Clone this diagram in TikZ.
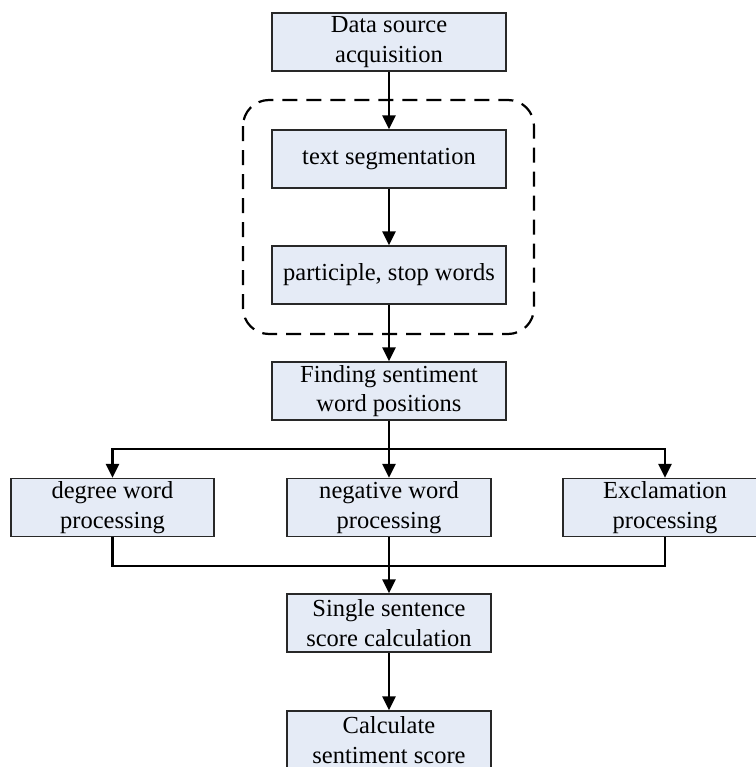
\documentclass[tikz,border=0pt]{standalone}
\usepackage{fontspec}
\setmainfont{Liberation Serif}
\usetikzlibrary{arrows.meta,positioning,calc}
\definecolor{boxfill}{RGB}{229,235,246}
\definecolor{boxline}{RGB}{40,40,40}

\tikzset{
  procbox/.style={draw=boxline, fill=boxfill, line width=1.3bp, align=center,
    inner sep=0pt, minimum height=58bp,
    font=\fontsize{24.6}{29.5}\selectfont},
  wide/.style={minimum width=234bp},
  narrow/.style={minimum width=204bp},
  flow/.style={line width=2.5bp, -{Triangle[length=14bp,width=13bp]}},
  link/.style={line width=2.5bp},
}

\begin{document}
\begin{tikzpicture}[x=1bp, y=-1bp]
        \useasboundingbox (0,0) rectangle (756,767);
        % dashed group round the preprocessing steps
        \draw[line width=2.2bp, dash pattern=on 15bp off 9bp, rounded corners=26bp]
              (243,100) rectangle (534,334);
        \node[procbox, wide] (src) at (389,42) {Data source\\acquisition};
        \node[procbox, wide] (seg) at (389,159) {text segmentation};
        \node[procbox, wide] (stop) at (389,275) {participle, stop words};
        \node[procbox, wide] (find) at (389,391) {Finding sentiment\\word positions};
        \node[procbox, narrow, minimum width=203bp] (deg) at (112.5,507.5) {degree word\\processing};
        \node[procbox, narrow] (neg) at (389,507.5) {negative word\\processing};
        \node[procbox, narrow] (excl) at (665,507.5) {Exclamation\\processing};
        \node[procbox, narrow] (single) at (389,623) {Single sentence\\score calculation};
        \node[procbox, narrow] (calc) at (389,740) {Calculate\\sentiment score};
        \coordinate (split) at (389,449);
        \coordinate (merge) at (389,566);
        \draw[flow] (src) -- (seg);
        \draw[flow] (seg) -- (stop);
        \draw[flow] (stop) -- (find);
        \draw[link] (find) -- (split);
        \draw[flow] (split) -| (deg);
        \draw[flow] (split) -- (neg);
        \draw[flow] (split) -| (excl);
        \draw[link] (deg) |- (merge);
        \draw[link] (excl) |- (merge);
        \draw[link] (neg) -- (merge);
        \draw[flow] (merge) -- (single);
        \draw[flow] (single) -- (calc);
      \end{tikzpicture}
\end{document}
